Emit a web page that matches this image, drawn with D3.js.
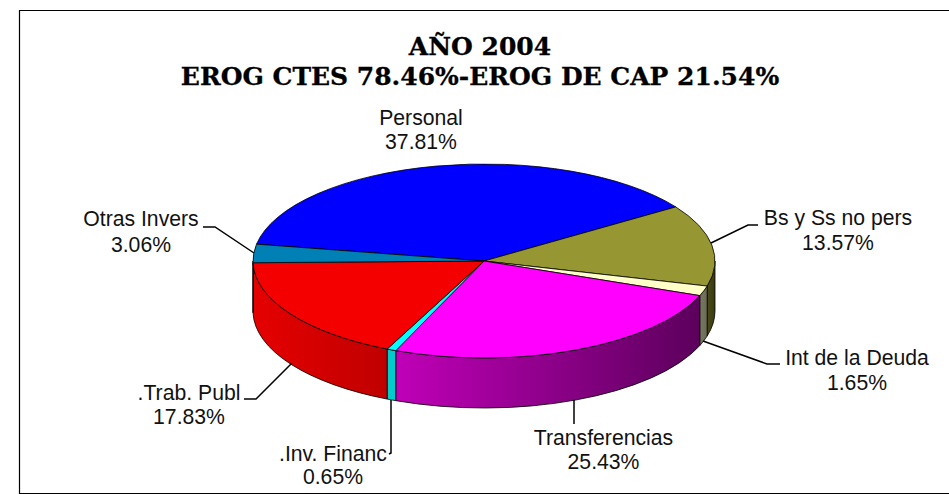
<!DOCTYPE html>
<html>
<head>
  <meta charset="utf-8">
  <title>AÑO 2004</title>
  <script src="https://d3js.org/d3.v7.min.js"></script>
  <style>
    html, body { margin: 0; padding: 0; background: #fff; overflow: hidden; }
    .label { font-family: "Liberation Sans", Arial, sans-serif; font-size: 21.2px; fill: #111; text-anchor: middle; }
    .title { font-family: "DejaVu Serif", serif; font-weight: bold; font-size: 25px; fill: #000; stroke: #000; stroke-width: 0.3px; text-anchor: middle; }
  </style>
</head>
<body>
  <div id="chart"></div>
  <script>
    // chart values, clockwise from the left edge of Personal
    var categories = ["Personal", "Bs y Ss no pers", "Int de la Deuda", "Transferencias", ".Inv. Financ", ".Trab. Publ", "Otras Invers"];
    var shares = [37.81, 13.57, 1.65, 25.43, 0.65, 17.83, 3.06];
    var shareLabels = ["37.81%", "13.57%", "1.65%", "25.43%", "0.65%", "17.83%", "3.06%"];
    var titleLines = ["AÑO 2004", "EROG CTES 78.46%-EROG DE CAP 21.54%"];

    var topColors = ["#0000ff", "#969632", "#ffffc8", "#ff00ff", "#00ffff", "#f40000", "#0080b4"];
    // wall shading, light end on the left of the slice and dark end on the right
    var wallColors = [
      ["#0000a0", "#000080"],
      ["#4a4a19", "#3a3a12"],
      ["#767860", "#6a6c54"],
      ["#c000b8", "#5c005c"],
      ["#00cccc", "#00cccc"],
      ["#e60000", "#c00000"],
      ["#005a80", "#004060"]
    ];

    var width = 949, height = 494;
    var cx = 484, cy = 261, rx = 231, ry = 97, depth = 50;
    var startDeg = 280;

    // label layout: center x, first baseline, second baseline, leader polyline
    var labelLayout = [
      {x: 421, y1: 125, y2: 149, line: null},
      {x: 838, y1: 225, y2: 250, line: [[711, 243], [748, 225], [758, 225]]},
      {x: 857, y1: 365, y2: 390, line: [[703, 341], [767, 364], [780, 364]]},
      {x: 603.5, y1: 445, y2: 469, line: [[574, 400], [574, 424]]},
      {x: 333, y1: 461, y2: 484, line: [[391, 400], [391, 453], [389, 454]]},
      {x: 189, y1: 400, y2: 424, line: [[292, 363], [256, 399], [244, 399]]},
      {x: 141, y1: 226, y2: 252, line: [[254, 253], [215, 227], [203, 227]]}
    ];

    var svg = d3.select("#chart").append("svg")
      .attr("width", width)
      .attr("height", height)
      .style("display", "block");

    // frame, the right side runs off the picture
    svg.append("path")
      .attr("d", "M949,10.5H19.5V493.5H949")
      .attr("fill", "none")
      .attr("stroke", "#000")
      .attr("stroke-width", 1.2);

    var pie = d3.pie().sort(null)
      .startAngle(startDeg * Math.PI / 180)
      .endAngle((startDeg + 360) * Math.PI / 180);
    var arcs = pie(shares);

    function px(a) { return cx + rx * Math.sin(a); }
    function py(a) { return cy - ry * Math.cos(a); }

    function ellipsePath(a0, a1, dy) {
      // sweep flag 1 = clockwise on screen
      var large = (a1 - a0) > Math.PI ? 1 : 0;
      return "A" + rx + "," + ry + " 0 " + large + " 1 " + px(a1) + "," + (py(a1) + dy);
    }

    var defs = svg.append("defs");

    // side walls, only the front half of the ellipse shows (90 to 270 degrees)
    var frontStart = Math.PI / 2, frontEnd = 3 * Math.PI / 2;
    arcs.forEach(function(d, i) {
      // slices are given in 280..640 degrees, so wrap them back to look for the front part
      var a0 = d.startAngle, a1 = d.endAngle;
      if (a0 > 2 * Math.PI) { a0 -= 2 * Math.PI; a1 -= 2 * Math.PI; }
      var s = Math.max(a0, frontStart), e = Math.min(a1, frontEnd);
      if (e <= s) return;
      var gradId = "wall" + i;
      var grad = defs.append("linearGradient")
        .attr("id", gradId)
        .attr("gradientUnits", "userSpaceOnUse")
        .attr("x1", px(s)).attr("x2", px(e))
        .attr("y1", 0).attr("y2", 0);
      // walls on the front run from right to left, so s is the right end
      grad.append("stop").attr("offset", 0).attr("stop-color", wallColors[i][1]);
      grad.append("stop").attr("offset", 1).attr("stop-color", wallColors[i][0]);

      var path = "M" + px(s) + "," + py(s) + ellipsePath(s, e, 0)
        + "L" + px(e) + "," + (py(e) + depth)
        + "A" + rx + "," + ry + " 0 0 0 " + px(s) + "," + (py(s) + depth) + "Z";
      svg.append("path")
        .attr("d", path)
        .attr("fill", "url(#" + gradId + ")")
        .attr("stroke", "#000")
        .attr("stroke-width", 0.8);
    });

    // top face
    svg.selectAll("path.slice")
      .data(arcs)
      .enter()
      .append("path")
      .attr("class", "slice")
      .attr("d", function(d) {
        return "M" + cx + "," + cy + "L" + px(d.startAngle) + "," + py(d.startAngle)
          + ellipsePath(d.startAngle, d.endAngle, 0) + "Z";
      })
      .attr("fill", function(d, i) { return topColors[i]; })
      .attr("stroke", "#000")
      .attr("stroke-width", 0.8);

    // leader lines
    svg.selectAll("path.leader")
      .data(labelLayout.filter(function(d) { return d.line; }))
      .enter()
      .append("path")
      .attr("class", "leader")
      .attr("d", function(d) { return d3.line()(d.line); })
      .attr("fill", "none")
      .attr("stroke", "#000")
      .attr("stroke-width", 1.5);

    // labels
    categories.forEach(function(name, i) {
      var pos = labelLayout[i];
      svg.append("text").attr("class", "label").attr("x", pos.x).attr("y", pos.y1).text(name);
      svg.append("text").attr("class", "label").attr("x", pos.x).attr("y", pos.y2).text(shareLabels[i]);
    });

    // title
    svg.append("text").attr("class", "title").attr("x", 480).attr("y", 55).text(titleLines[0]);
    svg.append("text").attr("class", "title").attr("x", 480).attr("y", 85).text(titleLines[1]);
  </script>
</body>
</html>
